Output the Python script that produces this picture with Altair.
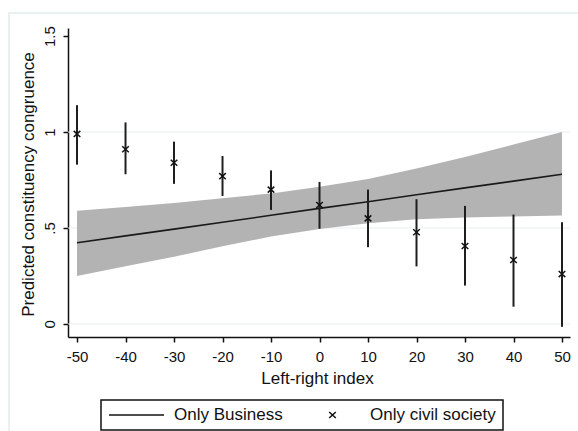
import altair as alt
import pandas as pd

# ---- data ----
x_vals = [-50, -40, -30, -20, -10, 0, 10, 20, 30, 40, 50]
# Only Business: linear prediction with CI band
biz_fit = [0.423, 0.459, 0.494, 0.530, 0.566, 0.602, 0.637, 0.673, 0.709, 0.744, 0.780]
biz_lo = [0.25, 0.30, 0.35, 0.405, 0.455, 0.495, 0.525, 0.545, 0.555, 0.56, 0.565]
biz_hi = [0.59, 0.61, 0.63, 0.655, 0.68, 0.715, 0.755, 0.81, 0.87, 0.935, 1.00]
# Only civil society: point estimates with CIs
civ_est = [0.99, 0.91, 0.84, 0.77, 0.70, 0.62, 0.55, 0.478, 0.406, 0.333, 0.26]
civ_lo = [0.83, 0.78, 0.73, 0.667, 0.594, 0.496, 0.40, 0.30, 0.20, 0.09, -0.015]
civ_hi = [1.14, 1.05, 0.95, 0.875, 0.80, 0.74, 0.70, 0.65, 0.615, 0.57, 0.53]

y_ticks = [0, 0.5, 1, 1.5]
x_ticks = [-50, -40, -30, -20, -10, 0, 10, 20, 30, 40, 50]
grid_y = [0, 0.5, 1]
series_names = ["Only Business", "Only civil society"]

FONT = "Liberation Sans"
W, H = 502, 309

biz = pd.DataFrame({"x": x_vals, "fit": biz_fit, "lo": biz_lo, "hi": biz_hi})
civ = pd.DataFrame({"x": x_vals, "est": civ_est, "lo": civ_lo, "hi": civ_hi,
                    "series": series_names[1]})
grid = pd.DataFrame({"y": grid_y})

xscale = alt.Scale(domain=[-51.86, 51.65], nice=False, zero=False)
yscale = alt.Scale(domain=[-0.068, 1.542], nice=False, zero=False)

xaxis = alt.Axis(values=x_ticks, title="Left-right index", grid=False,
                 labelExpr="'' + datum.value",
                 labelFontSize=15, labelPadding=7, labelAlign="center",
                 titleFontSize=17, titleBaseline="alphabetic", titleY=46,
                 titleX=W / 2 - 2)
yaxis = alt.Axis(values=y_ticks, title="Predicted constituency congruence", grid=False,
                 labelAngle=270, labelAlign="center", labelBaseline="alphabetic",
                 labelPadding=9, labelFontSize=15,
                 labelExpr="datum.value == 0.5 ? '.5' : datum.value == 1.5 ? '1.5' : datum.value == 1 ? '1' : '0'",
                 titleFontSize=17, titleAngle=270, titleBaseline="alphabetic",
                 titleX=-34.5, titleY=H / 2 + 1.5, titleAlign="center")

frame = alt.Chart(pd.DataFrame({"k": [0]})).mark_rect(
    fill=None, stroke="#e4ecee", strokeWidth=1.5
).encode(x=alt.value(-59), x2=alt.value(530), y=alt.value(-15), y2=alt.value(420))

gridlines = alt.Chart(grid).mark_rule(color="#e8eff0", strokeWidth=1).encode(
    y=alt.Y("y:Q", scale=yscale, axis=yaxis),
    x=alt.value(0), x2=alt.value(W),
)

band = alt.Chart(biz).mark_area(color="#b3b3b3", opacity=1).encode(
    x=alt.X("x:Q", scale=xscale, axis=xaxis),
    y=alt.Y("lo:Q", scale=yscale),
    y2="hi:Q",
)

line = alt.Chart(biz).mark_line(color="#1a1a1a", strokeWidth=1.6).encode(
    x=alt.X("x:Q", scale=xscale),
    y=alt.Y("fit:Q", scale=yscale),
)

bars = alt.Chart(civ).mark_rule(color="#1e1e1e", strokeWidth=2).encode(
    x=alt.X("x:Q", scale=xscale),
    y=alt.Y("lo:Q", scale=yscale),
    y2="hi:Q",
)

line_path = "M-1,0L1,0"
cross_path = "M-0.12,-0.11L0.12,0.11M0.12,-0.11L-0.12,0.11"

pts = alt.Chart(civ).mark_point(filled=False, color="#111111", strokeWidth=1.5,
                                opacity=1, size=3025).encode(
    x=alt.X("x:Q", scale=xscale),
    y=alt.Y("est:Q", scale=yscale),
    shape=alt.Shape("series:N",
                    scale=alt.Scale(domain=series_names, range=[line_path, cross_path]),
                    legend=alt.Legend(title=None, orient="none", direction="horizontal",
                                      legendX=33, legendY=372,
                                      symbolSize=3025, symbolStrokeWidth=1.5,
                                      symbolStrokeColor="#111111",
                                      symbolFillColor="transparent",
                                      labelFont=FONT, labelFontSize=17,
                                      labelColor="#111111", labelOffset=9,
                                      columnPadding=21, clipHeight=16,
                                      padding=7, strokeColor="#111111",
                                      labelLimit=300)),
)

chart = alt.layer(frame, gridlines, band, line, bars, pts).properties(
    width=W, height=H,
    padding={"left": 68, "top": 28, "right": 8, "bottom": 94},
    autosize=alt.AutoSizeParams(type="none"),
    background="white",
).configure_view(stroke=None).configure_axis(
    domainColor="#111111", domainWidth=1.5, tickColor="#111111", tickWidth=1.5,
    tickSize=5, labelFont=FONT, titleFont=FONT, labelColor="#111111",
    titleColor="#111111", titleFontWeight="normal",
).configure_legend(strokeWidth=1.5)

chart.save("out.html", embed_options={"renderer": "svg", "actions": False})
